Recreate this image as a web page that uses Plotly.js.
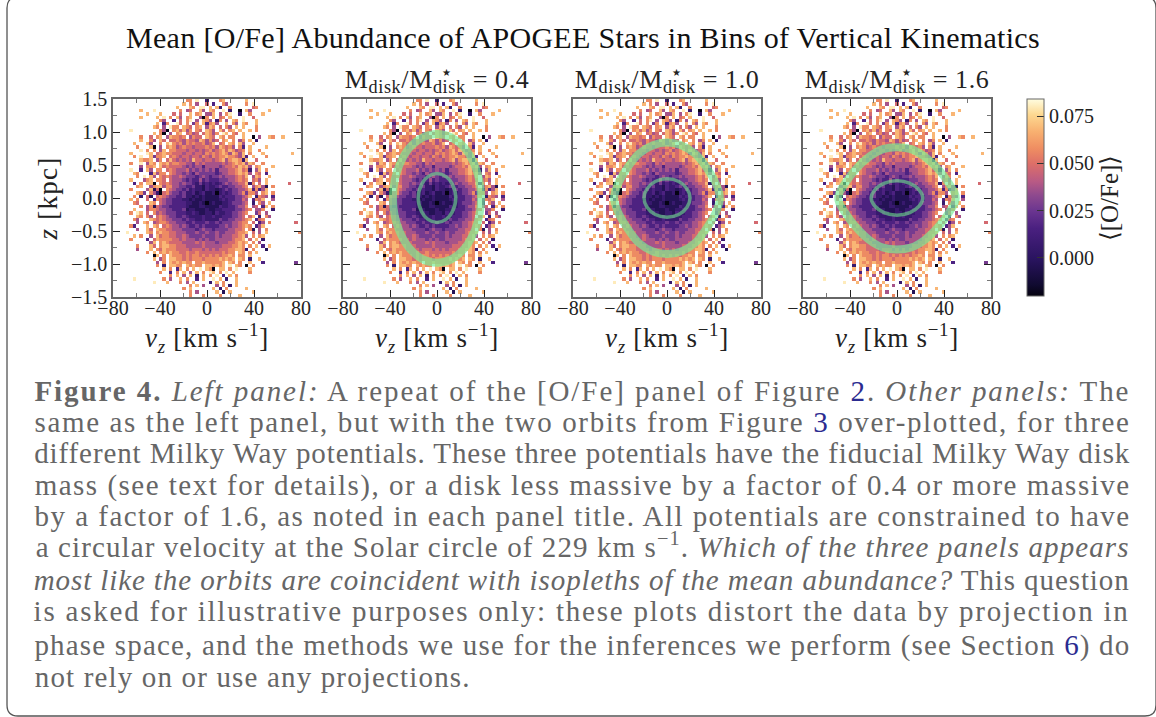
<!DOCTYPE html>
<html><head><meta charset="utf-8">
<script src="https://cdn.plot.ly/plotly-3.0.1.min.js"></script>
<style>html,body{margin:0;padding:0;background:#fff}#c{width:1156px;height:717px}</style>
</head><body><div id="c"></div>
<script>
// Cell levels; '.' = empty bin. Rows run from z=+1.5 (top) to z=-1.5.
const levelValues = [-0.02,-0.004,0.006,0.016,0.027,0.037,0.047,0.057,0.068,0.08];
const oFeRows = [
".......... .......... ..77.9..2. ..78...... 8......... .......",
".......... .......... .8.7.5..6. 3..75..... 7.9....... .......",
".......... .........8 ...87.99.8 .82..7.... ..67...... .......",
"........8. ..9....... 7.56..85.8 7..9.2..0. 85.....8.. .......",
".......... 8...8...6. 6..8.78.55 8.5.79..2. .7...8.... .......",
"........8. ...8.9.7.8 5.78..507. 8.67.8...9 ..6....... .......",
".......... ....75..3. 6.79.5.875 .27.5.87.9 ...8...... .......",
".......... ...8.37..9 6.7.47.837 85..8.75.8 7..8...... .......",
".......... ..87.5.977 .876.78.58 7.6.75.8.8 ...7...... .......",
".....9.... ....750.78 6857.76.87 5.86.78.8. .8.7...... .......",
".......... ..8.70.5.7 8.6756.687 57.98.76.8 .......... .......",
"........7. .6.78.5877 67.5766.87 6.87.77..8 ..0.5..87. .8.....",
"........8. .75.86.667 6576658757 56.78.7.57 .8.2...... .......",
"......8... 85..7.8976 7576766756 8.67.87.85 ..8....... .......",
".......7.. .80.5.7875 6766566676 7587675.73 .8....8... .......",
"........9. 7.7.58.776 6656656567 5678687567 .8..7..... .......",
".....8.... 98.6787766 6566566576 7678758758 .7...8.... ....8..",
"......7.9. .84778.676 5665665765 7677877658 3.8...7... .......",
"........87 78.57.6865 6565866566 5678578872 8..6...... .......",
".....7..9. 587.878677 6655465655 5556567878 587..7.... .......",
"........5. 778.867666 6545455355 5545667687 85.78...8. .......",
".....9..3. 85.77.6765 5564545454 5355566786 72.58.7... .......",
"......87.. .38577.765 5454354444 4345566787 85.76.3... .......",
".......7.9 .85.767655 6544434543 4454555676 8.587..8.. .......",
".....8...5 78.776.655 5434335343 3344455676 7.675.8... .......",
"......3.7. 880.767655 4544324232 3234545566 827.6.8... ...6...",
".......78. .578857755 4433422132 2343344556 7.57851.7. .......",
".....7.... 58160.7654 4342322132 2123434455 6837358... .......",
".......874 .752067544 3422312311 2023234457 4775.78.7. .......",
"......7.2. 61.6765443 3422121211 1132333445 68.2765.3. .......",
".....8.7.. 6.37654433 3221211211 1123233446 5.3768..5. .......",
"......76.. .87.654433 3322112101 2112234445 6.2.75.8.. .......",
"........7. 5716544333 3321112211 1132233455 7.56.38.7. .......",
"......8... 5776554433 3412211121 1223333445 67.557..2. .......",
".....7.98. 6.75654443 3322321122 1322334456 7..46.5... .......",
".......87. 75.6765443 3432222322 3223334456 .68.2.75.. .......",
"......75.. .876765544 4343322322 2243344556 78.367.... .......",
".......5.8 7.56776554 4433433343 3434445567 7.6.35.7.. .....6.",
".....73... 8.87.67655 4543343433 3344545567 87.358.... .......",
".......5.. 86.8776655 5444434544 3444455667 .71.5.7... .......",
"....9..... 87.7877665 5544454454 4544555677 8.6.5.8... ......7",
"......8.7. .5.8677665 5654444544 4545556678 5.7.78.... .......",
".....7.... 3.68777766 5655545454 4555556778 .6.8.2.... .......",
".......... .58.787666 6555565655 5455566787 8.7.5..... .......",
".......7.. .86.788776 6655555655 5556667787 .7.8.3.8.. .......",
".......5.. .8.7687776 6665666565 6566677887 2.7...1... .......",
".......... 7.8.787877 6676676666 6667677.87 .7.8...... .......",
".......... ..08.7.877 7676776767 6767787.77 .8........ .......",
".......... ..8.57.887 7676777677 7787878.87 .2..8..... .......",
".......... ...5.7.878 7877.77877 7778.87.7. .8...3.... .....4.",
".......... ...7.2.887 7.87877.88 7878.9.87. 0.7....... .......",
".......... .....8.7.3 8.7.8.9.87 0.88.7.9.. .8........ .......",
".......... ....7..3.7 .8.5.8.7.9 8.7.9.8... .7........ .......",
".......... .......7.8 .5.8.2.8.7 .9.3.8.7.. .......... .......",
"......9... .....7.5.. 8.7..3.8.. 9.8.2..8.. .......... .......",
".......... ..9...8... 7.5.8....2 .8.7...8.. .......... .......",
".......... .......... ...7.8.5.. .5.7.2.8.. .......... .......",
".......... .......... .7.8...... 8.2.7..... 8......... .......",
".......... .......... ...7.5.... .8.1.8.... ..8....... .......",
".......... .......... ...7...7.. ..7.....8. .......... ......."
];

// Orbits: [km/s] and [kpc]
const outer04Vz = [0,12,24,32,36,37.5,36,32,24,12,0,-12,-24,-32,-36,-37.5,-36,-32,-24,-12,0];
const outer04Z  = [0.97,0.92,0.75,0.5,0.27,0,-0.27,-0.5,-0.75,-0.93,-0.98,-0.93,-0.75,-0.5,-0.27,0,0.27,0.5,0.75,0.92,0.97];
const inner04Vz = [0,8,13,16,13,8,0,-8,-13,-16,-13,-8,0];
const inner04Z  = [0.37,0.32,0.21,0,-0.21,-0.32,-0.37,-0.32,-0.21,0,0.21,0.32,0.37];
const outer10Vz = [0,12,24,34,42,45,42,34,24,12,0,-12,-24,-34,-42,-45,-42,-34,-24,-12,0];
const outer10Z  = [0.84,0.8,0.67,0.45,0.2,0,-0.2,-0.45,-0.68,-0.81,-0.85,-0.81,-0.68,-0.45,-0.2,0,0.2,0.45,0.67,0.8,0.84];
const inner10Vz = [0,10,17,19.6,17,10,0,-10,-17,-19.6,-17,-10,0];
const inner10Z  = [0.29,0.25,0.14,0,-0.14,-0.25,-0.29,-0.25,-0.14,0,0.14,0.25,0.29];
const outer16Vz = [0,12,24,36,45,49,50,49,45,36,24,12,0,-12,-24,-36,-45,-49,-50,-49,-45,-36,-24,-12,0];
const outer16Z  = [0.77,0.74,0.62,0.42,0.2,0.08,0,-0.08,-0.2,-0.42,-0.63,-0.75,-0.78,-0.75,-0.63,-0.42,-0.2,-0.08,0,0.08,0.2,0.42,0.62,0.74,0.77];
const inner16Vz = [0,11,19,22,19,11,0,-11,-19,-22,-19,-11,0];
const inner16Z  = [0.26,0.22,0.12,0,-0.12,-0.22,-0.26,-0.22,-0.12,0,0.12,0.22,0.26];

const panelTitles = [null,"0.4","1.0","1.6"];
const captionLines = [
 '<b>Figure 4.</b> <i>Left panel:</i> A repeat of the [O/Fe] panel of Figure <span style="color:#2b2b90">2</span>. <i>Other panels:</i> The',
 'same as the left panel, but with the two orbits from Figure <span style="color:#2b2b90">3</span> over-plotted, for three',
 'different Milky Way potentials. These three potentials have the fiducial Milky Way disk',
 'mass (see text for details), or a disk less massive by a factor of 0.4 or more massive',
 'by a factor of 1.6, as noted in each panel title. All potentials are constrained to have',
 'a circular velocity at the Solar circle of 229 km s<sup>−1</sup>. <i>Which of the three panels appears</i>',
 '<i>most like the orbits are coincident with isopleths of the mean abundance?</i> This question',
 'is asked for illustrative purposes only: these plots distort the data by projection in',
 'phase space, and the methods we use for the inferences we perform (see Section <span style="color:#2b2b90">6</span>) do',
 'not rely on or use any projections.'
];
const captionY = [391,422,453,485,516,545,580,611,645,677];

const W=1156,H=717,F='"Liberation Serif",serif',INK='#222';
const z = oFeRows.map(r=>{
  const g=r.split(/ +/).map((s,i)=>s.padEnd(i<5?10:7,'.').slice(0,i<5?10:7)).join('');
  return [...g].map(c=>c==='.'?null:levelValues[+c]);
});
const boxes=[[113,301],[343,531],[573,761],[803,991]];
const orbits=[null,[outer04Vz,outer04Z,inner04Vz,inner04Z],[outer10Vz,outer10Z,inner10Vz,inner10Z],[outer16Vz,outer16Z,inner16Vz,inner16Z]];
const data=[],layout={
  width:W,height:H,margin:{l:0,r:0,t:0,b:0},paper_bgcolor:'#fff',plot_bgcolor:'#fff',showlegend:false,
  font:{family:F,color:INK},
  title:{text:'Mean [O/Fe] Abundance of APOGEE Stars in Bins of Vertical Kinematics',x:583/W,xanchor:'center',y:1-37/H,yanchor:'middle',yref:'container',font:{family:F,size:30,color:'#111'}},
  coloraxis:{cmin:-0.0207,cmax:0.084,colorscale:[[0,'#04020f'],[.056,'#100a30'],[.19,'#2a1460'],[.343,'#4a2080'],[.43,'#6a3590'],[.513,'#8f4a8e'],[.58,'#b85a85'],[.672,'#dd6f68'],[.75,'#ef8e62'],[.834,'#f8b070'],[.92,'#fdd890'],[1,'#fffde0']],
    colorbar:{x:1027/W,xanchor:'left',xpad:0,ypad:0,y:1-198/H,yanchor:'middle',lenmode:'fraction',len:197/H,thicknessmode:'pixels',thickness:17,
      outlinecolor:'#666',outlinewidth:1,ticks:'inside',ticklen:7,tickcolor:'#333',tickvals:[0,0.025,0.05,0.075],ticktext:['0.000','0.025','0.050','0.075'],
      tickfont:{family:F,size:20,color:INK},title:{text:'⟨[O/Fe]⟩',side:'right',font:{family:F,size:25,color:INK}}}},
  annotations:[],shapes:[]
};
boxes.forEach((b,i)=>{
  const s=i?String(i+1):'';
  data.push({type:'heatmap',z,x0:-80+80/57,dx:160/57,y0:1.475,dy:-0.05,coloraxis:'coloraxis',xaxis:'x'+s,yaxis:'y'+s,hoverinfo:'skip',zsmooth:false});
  if(orbits[i]){
    const o=orbits[i];
    data.push({type:'scatter',mode:'lines',x:o[0],y:o[1],xaxis:'x'+s,yaxis:'y'+s,hoverinfo:'skip',line:{color:'rgba(120,235,150,0.68)',width:8,shape:'spline',smoothing:0.8}});
    data.push({type:'scatter',mode:'lines',x:o[2],y:o[3],xaxis:'x'+s,yaxis:'y'+s,hoverinfo:'skip',line:{color:'rgba(110,225,140,0.6)',width:3.5,shape:'spline',smoothing:1}});
  }
  const common={showgrid:false,zeroline:false,showline:true,linecolor:'#666',linewidth:1.5,mirror:'allticks',ticks:'inside',ticklen:7,tickcolor:'#222',tickwidth:1,tickfont:{family:F,size:20,color:INK}};
  layout['xaxis'+s]={...common,domain:[b[0]/W,b[1]/W],range:[-80,80],dtick:40,tick0:0,anchor:'y'+s,ticklabelstandoff:-8,minor:{dtick:20,ticks:'inside',ticklen:4,tickcolor:'#777',showgrid:false},
    title:{text:'<i>v<sub>z</sub></i> [km s<sup>−1</sup>]',standoff:4,font:{family:F,size:27,color:INK}}};
  layout['yaxis'+s]={...common,domain:[1-297/H,1-99/H],range:[-1.5,1.5],dtick:0.5,tick0:0,tickformat:'.1f',anchor:'x'+s,showticklabels:i===0,minor:{dtick:0.25,ticks:'inside',ticklen:4,tickcolor:'#777',showgrid:false},
    title:i===0?{text:'<i>z</i> [kpc]',standoff:6,font:{family:F,size:27,color:INK}}:undefined};
  if(panelTitles[i]){
    const c=(b[0]+b[1])/2;
    layout.annotations.push({xref:'paper',yref:'paper',x:c/W,y:1-81/H,xanchor:'center',yanchor:'middle',showarrow:false,text:'M<sub>disk</sub>/M<sub>disk</sub> = '+panelTitles[i],font:{family:F,size:26,color:INK}});
    layout.annotations.push({xref:'paper',yref:'paper',x:(c+9)/W,y:1-72/H,xanchor:'center',yanchor:'middle',showarrow:false,text:'★',font:{family:'DejaVu Sans',size:10,color:INK}});
  }
});
const firstCaption=layout.annotations.length;
const fitWidths=captionLines.map((_,i)=>i===9?436:1096);
captionLines.forEach((t,i)=>{
  layout.annotations.push({xref:'paper',yref:'paper',x:(i===9?252:582)/W,y:1-captionY[i]/H,xanchor:'center',yanchor:'middle',showarrow:false,text:t,font:{family:F,size:29,color:'#666'}});
});
const px=(x,y)=>(x/W).toFixed(5)+' '+(1-y/H).toFixed(5);
layout.shapes.push({type:'path',xref:'paper',yref:'paper',line:{color:'#555',width:1.3},
  path:`M ${px(7,8)} Q ${px(7,-3)} ${px(18,-3)} L ${px(1145,-3)} Q ${px(1156,-3)} ${px(1156,8)} L ${px(1156,705)} Q ${px(1156,716)} ${px(1145,716)} L ${px(18,716)} Q ${px(7,716)} ${px(7,705)} Z`});

const fit=(el,target)=>{
  const len=el.getComputedTextLength();
  const n=el.textContent.length;
  el.style.letterSpacing=((target-len)/n).toFixed(3)+'px';
};
Plotly.newPlot('c',data,layout,{displayModeBar:false}).then(gd=>{
  gd.querySelectorAll('.annotation').forEach(a=>{
    const idx=+a.getAttribute('data-index'), i=idx-firstCaption;
    const t=a.querySelector('.annotation-text');
    if(!t) return;
    if(i>=0) fit(t,fitWidths[i]);
    else if(idx%2===0) fit(t,187);
  });
  const t=gd.querySelector('.gtitle'); if(t) fit(t,914);
  ['x','x2','x3','x4'].forEach(a=>{const e=gd.querySelector('.g-'+a+'title text'); if(e) fit(e,127);});
  const y=gd.querySelector('.g-ytitle text'); if(y) fit(y,83);
});
</script></body></html>
